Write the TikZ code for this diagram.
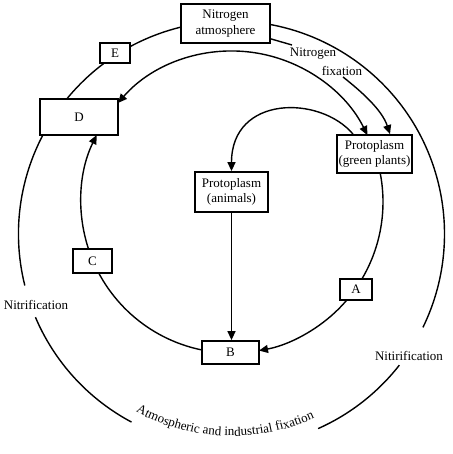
\documentclass[tikz,border=0pt]{standalone}
\usepackage{fontspec}
\setmainfont{Liberation Serif}
\usetikzlibrary{arrows.meta,decorations.text,calc}
\newcommand\lblfont{\fontsize{13}{15.5}\selectfont}
\begin{document}
\begin{tikzpicture}[x=1pt,y=-1pt,
  line width=1.4pt,
  box/.style={draw, fill=white, line width=1.8pt, inner sep=0pt, align=center, font=\lblfont},
  lbl/.style={inner sep=0pt, font=\lblfont},
  tip/.style={-{Triangle[length=9pt,width=8pt]}},
  tips/.style={{Triangle[length=9pt,width=8pt]}-{Triangle[length=9pt,width=8pt]}},
]
\useasboundingbox (0,0) rectangle (452,454);
\coordinate (O) at (231.5,234);
\coordinate (I) at (232,202);
% outer cycle
\draw ($(O)+(38:213)$) arc[start angle=38,end angle=66,radius=213];
\draw ($(O)+(118:213)$) arc[start angle=118,end angle=157,radius=213];
\draw ($(O)+(166:213)$) arc[start angle=166,end angle=386,radius=213];
% inner cycle
\draw[tips] ($(I)+(221:151)$) arc[start angle=221,end angle=333.7,radius=151];
\draw[tip] ($(I)+(100:151)$) arc[start angle=100,end angle=206.3,radius=151];
\draw[tip] ($(I)+(-11.1:151)$) arc[start angle=-11.1,end angle=79.7,radius=151];
% boxes
\node[box, minimum width=89pt, minimum height=39pt] (atm) at (225.5,23.5) {Nitrogen\\atmosphere};
\node[box, minimum width=78pt, minimum height=36pt] (D) at (79,117) {D};
\node[box, minimum width=30pt, minimum height=20pt] (E) at (115,53) {E};
\node[box, minimum width=39pt, minimum height=24pt] (C) at (92.5,261) {C};
\node[box, minimum width=32pt, minimum height=21pt] (A) at (356,289.5) {A};
\node[box, minimum width=57pt, minimum height=23pt] (B) at (230.5,352.5) {B};
\node[box, minimum width=73pt, minimum height=40pt] (animals) at (231.5,192) {Protoplasm\\(animals)};
\node[box, minimum width=75pt, minimum height=38pt] (green) at (374.5,154) {Protoplasm\\(green plants)};
% connectors
\draw[tip] (animals.south) -- (animals.south |- B.north);
\draw[tip] ([xshift=-21.5pt]green.north) .. controls (320,95) and (231.5,95) .. (animals.north);
\coordinate (nfa) at (292,45);
\coordinate (nfb) at (343,77);
\draw ($(atm.south east)+(0,-5)$) -- (nfa);
\draw[tip] (nfb) .. controls (362,92) and (382,110) .. ([xshift=15.5pt]green.north);
% labels
\node[lbl] (nf1) at (313,54) {Nitrogen};
\node[lbl] (nf2) at (342,71) {fixation};
\node[lbl] (nl) at (36,305) {Nitrification};
\node[lbl] (nr) at (409,356) {Nitirification};
\path[decorate, decoration={text along path, text={|\lblfont|Atmospheric and industrial fixation}, text align=center}]
  ($(O)+(124:202)$) arc[start angle=124,end angle=60,radius=202];
\end{tikzpicture}
\end{document}
